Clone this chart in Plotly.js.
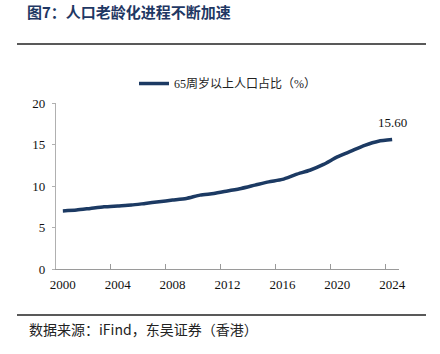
<!DOCTYPE html>
<html>
<head>
<meta charset="utf-8">
<script src="https://cdn.plot.ly/plotly-3.0.1.min.js"></script>
<style>html,body{margin:0;padding:0;background:#fff;}#chart{width:440px;height:354px;}</style>
</head>
<body>
<div id="chart"></div>
<script>
const years = ['2000','2001','2002','2003','2004','2005','2006','2007','2008','2009','2010','2011','2012','2013','2014','2015','2016','2017','2018','2019','2020','2021','2022','2023','2024'];
const elderlyShare = [7.0,7.1,7.3,7.5,7.6,7.7,7.9,8.1,8.3,8.5,8.9,9.1,9.4,9.7,10.1,10.5,10.8,11.4,11.9,12.6,13.5,14.2,14.9,15.4,15.6];
const seriesName = '65周岁以上人口占比（%）';
const chartTitle = '图7：人口老龄化进程不断加速';
const sourceText = '数据来源：iFind，东吴证券（香港）';

const serif = 'Liberation Serif, Times New Roman, Noto Sans CJK SC, serif';
const navy = '#1c3a63';

const trace = {
  x: years, y: elderlyShare, type: 'scatter', mode: 'lines', name: seriesName,
  line: {color: navy, width: 3.5, shape: 'spline', smoothing: 0.6},
  hoverinfo: 'skip', cliponaxis: false
};

const lastIdx = years.length - 1;
const layout = {
  width: 440, height: 354,
  margin: {l: 56, r: 41, t: 103, b: 85},
  paper_bgcolor: '#fff', plot_bgcolor: '#fff',
  showlegend: true,
  legend: {orientation: 'h', x: 0.5, xanchor: 'center', y: 1.03, yanchor: 'bottom',
    font: {family: serif, size: 12, color: '#222'}, itemwidth: 30, bgcolor: 'rgba(0,0,0,0)'},
  title: {text: chartTitle, x: 27/440, xanchor: 'left', xref: 'container', y: 1 - 12.5/354, yref: 'container', yanchor: 'middle',
    font: {family: 'Noto Sans CJK SC, sans-serif', size: 15, color: '#1f3864', weight: 'bold'}},
  xaxis: {type: 'category', tickmode: 'linear', tick0: 0, dtick: 4, tickson: 'boundaries', tickangle: 0,
    range: [-0.5, years.length - 0.5],
    showline: true, linecolor: '#9a9a9a', linewidth: 1, showgrid: false, zeroline: false,
    ticks: 'inside', ticklen: 5, tickcolor: '#9a9a9a', tickwidth: 1,
    tickfont: {family: serif, size: 13, color: '#111'}, ticklabelstandoff: 3, fixedrange: true},
  yaxis: {range: [0, 20], tickmode: 'linear', tick0: 0, dtick: 5,
    showline: true, linecolor: '#b0b0b0', linewidth: 1.2, showgrid: false, zeroline: false,
    ticks: 'outside', ticklen: 3, tickcolor: '#b0b0b0',
    tickfont: {family: serif, size: 13, color: '#111'}, ticklabelstandoff: 4, fixedrange: true},
  annotations: [
    {x: lastIdx, y: elderlyShare[lastIdx], xref: 'x', yref: 'y', text: elderlyShare[lastIdx].toFixed(2),
      showarrow: false, yshift: 17, font: {family: serif, size: 13, color: '#111'}},
    {x: (27-56)/343, y: (269-329)/166, xref: 'paper', yref: 'paper', xanchor: 'left', yanchor: 'middle',
      text: sourceText, showarrow: false, font: {family: 'Noto Sans CJK SC, sans-serif', size: 14, color: '#222'}}
  ],
  shapes: [
    {type: 'line', xref: 'paper', yref: 'paper', x0: (17-56)/343, x1: (426-56)/343, y0: (269-44)/166, y1: (269-44)/166,
      line: {color: '#222', width: 1.6}},
    {type: 'line', xref: 'paper', yref: 'paper', x0: (17-56)/343, x1: (426-56)/343, y0: (269-315)/166, y1: (269-315)/166,
      line: {color: '#222', width: 1.6}}
  ]
};

Plotly.newPlot('chart', [trace], layout, {displayModeBar: false, staticPlot: true});
</script>
</body>
</html>
